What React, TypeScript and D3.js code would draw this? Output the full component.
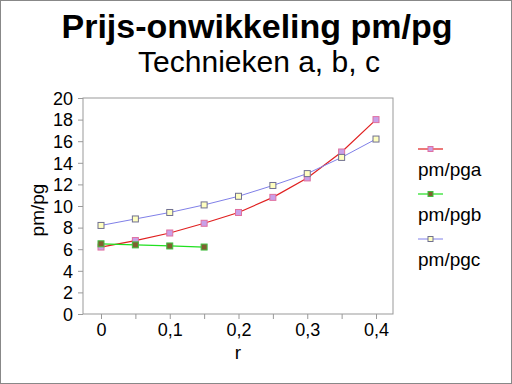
import React, { useEffect, useRef } from 'react';
import * as d3 from 'd3';

const rValues = [0, 0.05, 0.1, 0.15, 0.2, 0.25, 0.3, 0.35, 0.4];
const pgaValues = [6.2, 6.8, 7.5, 8.4, 9.4, 10.8, 12.6, 15.0, 18.0];
const pgbValues = [6.5, 6.4, 6.3, 6.2];
const pgcValues = [8.2, 8.8, 9.4, 10.1, 10.9, 11.9, 13.0, 14.5, 16.2];
const seriesNames = ['pm/pga', 'pm/pgb', 'pm/pgc'];
const xTicks = [0, 0.1, 0.2, 0.3, 0.4];
const yTicks = [0, 2, 4, 6, 8, 10, 12, 14, 16, 18, 20];

const styles = [
  { line: '#e02020', fill: '#c8a0e8', stroke: '#e070a0', width: 1.2 },
  { line: '#20e020', fill: '#806030', stroke: '#40c040', width: 1.2 },
  { line: '#8080e8', fill: '#ffffc0', stroke: '#707090', width: 1 },
];

function App() {
  const svgRef = useRef<SVGSVGElement>(null);
  const width = 512;
  const height = 384;

  useEffect(() => {
    const svg = d3.select(svgRef.current);
    svg.selectAll('*').remove();
    const font = 'Liberation Sans, Arial, sans-serif';

    svg.append('rect')
      .attr('x', 0.5).attr('y', 0.5)
      .attr('width', width - 1).attr('height', height - 1)
      .attr('fill', '#fff').attr('stroke', '#888');

    svg.append('text')
      .attr('x', 257).attr('y', 38)
      .attr('text-anchor', 'middle')
      .attr('font-family', font).attr('font-weight', 'bold').attr('font-size', 34)
      .text('Prijs-onwikkeling pm/pg');
    svg.append('text')
      .attr('x', 259).attr('y', 72)
      .attr('text-anchor', 'middle')
      .attr('font-family', font).attr('font-size', 30)
      .text('Technieken a, b, c');

    const x = d3.scaleLinear().domain([0, 0.4]).range([101, 376]);
    const y = d3.scaleLinear().domain([0, 20]).range([314, 98]);

    svg.append('rect')
      .attr('x', 83).attr('y', 98)
      .attr('width', 310).attr('height', 216)
      .attr('fill', 'none').attr('stroke', '#999');

    const fmt = (d: number) => String(d).replace('.', ',');

    const xAxis = svg.append('g')
      .attr('transform', 'translate(0,314)')
      .call(d3.axisBottom(x).tickValues(rValues).tickSize(5).tickPadding(6).tickFormat((d) => xTicks.includes(+d) ? fmt(+d) : ''));
    xAxis.select('.domain').remove();
    xAxis.selectAll('line').attr('stroke', '#999');
    xAxis.selectAll('text').attr('font-family', font).attr('font-size', 18).attr('fill', '#000').attr('dy', '11px');

    const yAxis = svg.append('g')
      .attr('transform', 'translate(83,0)')
      .call(d3.axisLeft(y).tickValues(yTicks).tickSize(5).tickPadding(5));
    yAxis.select('.domain').remove();
    yAxis.selectAll('line').attr('stroke', '#999');
    yAxis.selectAll('text').attr('font-family', font).attr('font-size', 18).attr('fill', '#000').attr('dy', '0.35em');

    svg.append('text')
      .attr('x', 238).attr('y', 359)
      .attr('text-anchor', 'middle')
      .attr('font-family', font).attr('font-size', 19)
      .text('r');
    svg.append('text')
      .attr('transform', 'translate(44,210) rotate(-90)')
      .attr('text-anchor', 'middle')
      .attr('font-family', font).attr('font-size', 19)
      .text('pm/pg');

    const all = [pgaValues, pgbValues, pgcValues];
    const line = d3.line<number>().x((_, i) => x(rValues[i])).y((d) => y(d));

    all.forEach((vals, k) => {
      const s = styles[k];
      svg.append('path')
        .attr('d', line(vals))
        .attr('fill', 'none')
        .attr('stroke', s.line).attr('stroke-width', s.width);
    });
    all.forEach((vals, k) => {
      const s = styles[k];
      svg.append('g').selectAll('rect')
        .data(vals)
        .join('rect')
        .attr('x', (_, i) => x(rValues[i]) - 3)
        .attr('y', (d) => y(d) - 3)
        .attr('width', 6).attr('height', 6)
        .attr('fill', s.fill).attr('stroke', s.stroke).attr('stroke-width', 1);
    });

    const legend = svg.append('g');
    seriesNames.forEach((name, k) => {
      const s = styles[k];
      const ly = 149 + k * 45;
      legend.append('line')
        .attr('x1', 418).attr('x2', 443).attr('y1', ly).attr('y2', ly)
        .attr('stroke', s.line).attr('stroke-width', s.width);
      legend.append('rect')
        .attr('x', 428).attr('y', ly - 2.5).attr('width', 5).attr('height', 5)
        .attr('fill', s.fill).attr('stroke', s.stroke);
      legend.append('text')
        .attr('x', 418).attr('y', ly + 27)
        .attr('font-family', font).attr('font-size', 19)
        .text(name);
    });
  }, []);

  return (
    <div style={{ position: 'absolute', left: 0, top: 0 }}>
      <svg ref={svgRef} width={width} height={height} style={{ display: 'block' }} />
    </div>
  );
}

export default App;
